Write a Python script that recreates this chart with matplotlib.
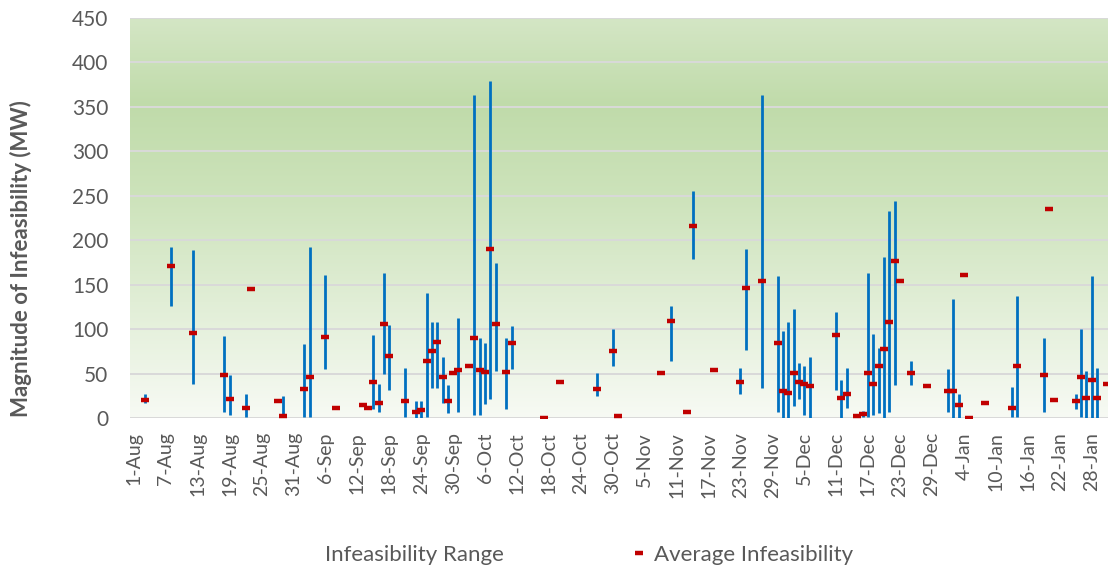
import numpy as np
import pandas as pd
import matplotlib
matplotlib.use("Agg")
import matplotlib.pyplot as plt
from matplotlib.colors import LinearSegmentedColormap
from matplotlib.lines import Line2D

plt.rcParams['font.family'] = ['Lato', 'DejaVu Sans']

# day of each record, average infeasibility and min/max range (MW)
dates = ["2016-08-03", "2016-08-08", "2016-08-12", "2016-08-18", "2016-08-19", "2016-08-22",
         "2016-08-23", "2016-08-28", "2016-08-29", "2016-09-02", "2016-09-03", "2016-09-06",
         "2016-09-08", "2016-09-13", "2016-09-14", "2016-09-15", "2016-09-16", "2016-09-17",
         "2016-09-18", "2016-09-21", "2016-09-23", "2016-09-24", "2016-09-25", "2016-09-26",
         "2016-09-27", "2016-09-28", "2016-09-29", "2016-09-30", "2016-10-01", "2016-10-03",
         "2016-10-04", "2016-10-05", "2016-10-06", "2016-10-07", "2016-10-08", "2016-10-10",
         "2016-10-11", "2016-10-17", "2016-10-20", "2016-10-27", "2016-10-30", "2016-10-31",
         "2016-11-08", "2016-11-10", "2016-11-13", "2016-11-14", "2016-11-18", "2016-11-23",
         "2016-11-24", "2016-11-27", "2016-11-30", "2016-12-01", "2016-12-02", "2016-12-03",
         "2016-12-04", "2016-12-05", "2016-12-06", "2016-12-11", "2016-12-12", "2016-12-13",
         "2016-12-15", "2016-12-16", "2016-12-17", "2016-12-18", "2016-12-19", "2016-12-20",
         "2016-12-21", "2016-12-22", "2016-12-23", "2016-12-25", "2016-12-28", "2017-01-01",
         "2017-01-02", "2017-01-03", "2017-01-04", "2017-01-05", "2017-01-08", "2017-01-13",
         "2017-01-14", "2017-01-19", "2017-01-20", "2017-01-21", "2017-01-25", "2017-01-26",
         "2017-01-27", "2017-01-28", "2017-01-29", "2017-01-31"]

avg = [20.5, 171, 96, 48.6, 21.3, 11.2, 145, 19, 3, 33, 46.7, 91.6,
       11.2, 15, 11.2, 40.4, 16.8, 105.8, 70.3, 19, 7, 9, 64.3, 75.9,
       86, 46.4, 19, 50.5, 54.6, 58.3, 89.8, 54.6, 52.3, 190.4, 105.8, 52.3,
       84.2, 0, 40.4, 33, 75.9, 3, 50.5, 109.5, 7, 215.8, 54.6, 40.4,
       147, 154.9, 84.2, 30.6, 28.7, 50.5, 40.4, 38.5, 36.6, 93.8, 22.8, 27,
       3, 5, 50.5, 38.5, 58.3, 77.8, 107.7, 176.5, 154.9, 50.5, 36.6, 30.6,
       30.6, 15, 160.8, 0, 16.8, 11.2, 58.3, 48.6, 235.7, 20.9, 19, 46.4,
       22.8, 42.6, 22.8, 38.5]

low = [17.5, 126, 39, 7.4, 3.7, 2, None, None, 2, 2, 2, 55,
       None, None, None, 10, 7.4, 49.4, 31.8, 1.8, 0, 0, 1.8, 33.7,
       33.7, 17.5, 6.3, None, 7.4, None, 3.7, 3.7, 15.7, 21.7, 53, 10,
       55, None, None, 25.4, 59, None, None, 64.6, None, 179.6, None, 27.3,
       76.7, 33.7, 7.4, 0, 0, 13.8, 21.7, 3.7, 0, 31.8, 0, 11.9,
       None, 2, 1.8, 3.7, 5.6, 0, 7.4, 37.4, None, 37.4, None, 7.4,
       0, 0, None, None, None, 1.8, 1.8, 7.4, None, None, 10, 1.8,
       0, 0, 0, None]

high = [27, 192.6, 189, 92.4, 48.6, 27, None, None, 25, 84, 192.6, 160.8,
        None, None, None, 94, 39, 163.4, 104.7, 56.8, 19.4, 19.4, 141.4, 107.7,
        107.7, 68.5, 37.4, None, 112.2, None, 364, 89.8, 84.2, 379.7, 174.6, 89.8,
        103.9, None, None, 50.5, 100.2, None, None, 126, None, 256, None, 56.8,
        190.8, 364, 159.7, 98, 107.7, 123.4, 62.4, 58.7, 68.5, 119.6, 43, 56.8,
        None, 8, 163.4, 94.3, 78.5, 181.4, 232.7, 244.2, None, 64.6, None, 55,
        133.6, 27, None, None, None, 35.5, 137.6, 90.5, None, None, 27, 100.2,
        53, 159.7, 56.8, None]

x = pd.to_datetime(dates)
lo = np.array(low, dtype=float)
hi = np.array(high, dtype=float)

fig = plt.figure(figsize=(11.08, 5.72), dpi=100)
ax = fig.add_axes([130 / 1108, 1 - 418.3 / 572, 1 - 130 / 1108, (418.3 - 18) / 572])

# green gradient plot background
cmap = LinearSegmentedColormap.from_list(
    "bg", [(0, "#d4e6c5"), (0.22, "#c0dbaa"), (0.45, "#cde3bb"), (1.0, "#f7faf4")])
grad = np.linspace(0, 1, 256).reshape(-1, 1)
ax.imshow(grad, extent=[0, 1, 0, 1], transform=ax.transAxes, aspect="auto",
          cmap=cmap, zorder=0)

ax.vlines(x, lo, hi, color="#0070c0", lw=2.0, zorder=3)
ax.plot(x, avg, ls="none", marker="_", ms=6, mew=3.2, color="#c00000", zorder=4)

start = pd.Timestamp("2016-08-01")
ax.set_xlim(start - pd.Timedelta(hours=18), start + pd.Timedelta(days=183.1))
ax.set_ylim(0, 450)
ax.set_yticks(range(0, 451, 50))
ticks = pd.date_range("2016-08-01", "2017-01-28", freq="6D")
ax.set_xticks(ticks)
ax.set_xticklabels([f"{t.day}-{t.strftime('%b')}" for t in ticks], rotation=90)

ax.yaxis.grid(True, color="#d9d9d9", lw=1.4, zorder=1)
ax.set_axisbelow(False)
for s in ax.spines.values():
    s.set_visible(False)
ax.tick_params(axis="both", length=0, colors="#595959")
ax.tick_params(axis="y", pad=15.5, labelsize=15)
ax.tick_params(axis="x", pad=10, labelsize=14)

ax.set_ylabel("Magnitude of Infeasibility (MW)", fontsize=16, fontweight="bold",
              color="#595959")
ax.yaxis.set_label_coords(-0.1005, 0.400)

handles = [Line2D([], [], color="none"),
           Line2D([], [], ls="none", marker="_", ms=6, mew=3.2, color="#c00000")]
fig.legend(handles, ["Infeasibility Range", "Average Infeasibility"], ncol=2,
           loc="center left", bbox_to_anchor=(0.2558, 0.0297), frameon=False,
           fontsize=16, labelcolor="#595959", columnspacing=5.77, handlelength=0.6,
           handletextpad=0.37, borderpad=0.4)

fig.savefig("out.png", dpi=100)
